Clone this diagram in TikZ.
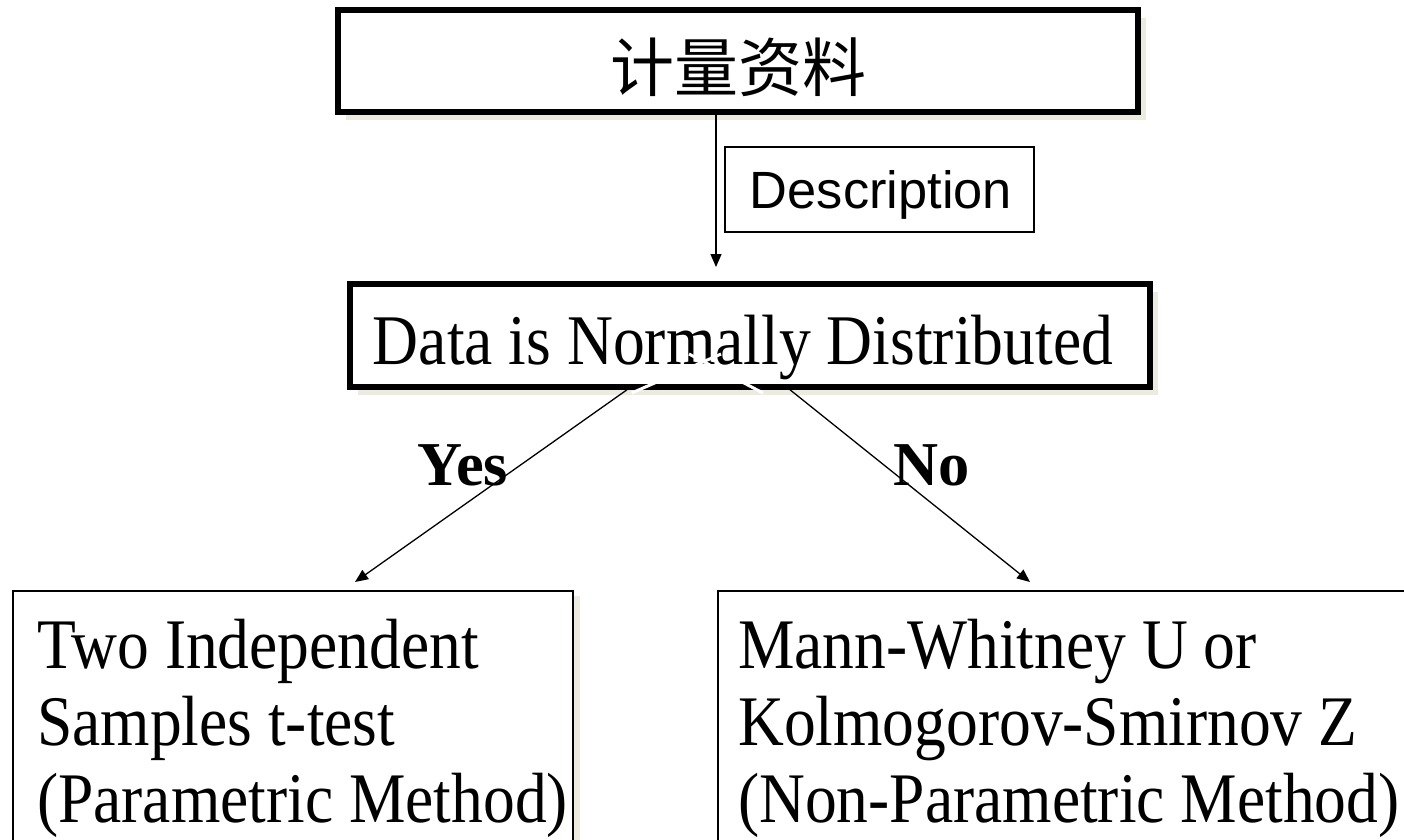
\documentclass[tikz,border=0pt]{standalone}
\usepackage{fontspec}
\setmainfont{Liberation Serif}
\newfontfamily\cjkfont{Noto Sans CJK SC}
\newfontfamily\arialfont{Liberation Sans}
\usetikzlibrary{arrows.meta}
\definecolor{shadowbeige}{HTML}{EDEADF}

\begin{document}
\begin{tikzpicture}[x=1pt,y=-1pt,
  boxshape/.style={draw=black, fill=white, inner sep=0pt, rectangle},
  heavybox/.style={boxshape, line width=6pt},
  midbox/.style={boxshape, line width=5.5pt},
  thinbox/.style={boxshape, line width=1.6pt},
  shadowbox/.style={fill=shadowbeige, draw=none, inner sep=0pt, rectangle},
  arrowline/.style={draw=black, line width=1.3pt, -{Triangle[width=11pt,length=13pt]}},
  gapline/.style={draw=white, line width=3pt},
  serifbig/.style={inner sep=0pt, font=\fontsize{63.5}{68.8}\selectfont},
  answer/.style={inner sep=0pt, anchor=base, font=\fontsize{62.4}{62}\selectfont\bfseries}
]
\useasboundingbox (0,0) rectangle (1404,839);
\clip (0,0) rectangle (1404,839);

% drop shadows
\node[shadowbox, minimum width=800pt, minimum height=102pt] (topshadow) at (746,69) {};
\node[shadowbox, minimum width=800pt, minimum height=103pt] (datashadow) at (757.5,343) {};
\node[shadowbox, minimum width=560pt, minimum height=400pt] (leftshadow) at (300,796) {};

% top box
\node[heavybox, minimum width=800pt, minimum height=102pt] (topbox) at (738,61) {};
\node[inner sep=0pt, anchor=base, font=\cjkfont\fontsize{64}{64}\selectfont] (toptext) at (738,91) {计量资料};

% description label beside the arrow
\node[thinbox, minimum width=309pt, minimum height=85pt] (descbox) at (879.5,189.5) {};
\node[inner sep=0pt, anchor=base, font=\arialfont\fontsize{52.4}{52}\selectfont] (desctext) at (881,208) {Description};

\coordinate (desctip) at (716,267);
\draw[arrowline] (topbox.south -| desctip) -- (desctip);

% normality decision box
\node[midbox, minimum width=800pt, minimum height=103pt] (databox) at (750,335.5) {};
\node[inner sep=0pt, anchor=base, font=\fontsize{63.6}{64}\selectfont] (datatext) at (743,364)
  {\scalebox{1}[1.12]{Data is Normally Distributed}};

% bottom result boxes
\node[thinbox, minimum width=560pt, minimum height=400pt] (leftbox) at (293,791) {};
\node[thinbox, minimum width=702pt, minimum height=400pt] (rightbox) at (1069,791) {};

\node[serifbig, anchor=base west] (lefttext) at (37,668)
  {\scalebox{1}[1.12]{\begin{tabular}[t]{@{}l@{}}Two Independent\\Samples t-test\\(Parametric Method)\end{tabular}}};
\node[serifbig, anchor=base west] (righttext) at (738,668)
  {\scalebox{1}[1.12]{\begin{tabular}[t]{@{}l@{}}Mann-Whitney U or\\Kolmogorov-Smirnov Z\\(Non-Parametric Method)\end{tabular}}};

% branch connectors
\coordinate (yesgapa) at (631.7,393);
\coordinate (yesgapb) at (721,354);
\coordinate (nogapa) at (763,393);
\coordinate (nogapb) at (689,354);
\draw[gapline] (yesgapa) -- (yesgapb);
\draw[gapline] (nogapa) -- (nogapb);

\coordinate (yesstart) at (databox.south -| 627,0);
\coordinate (nostart) at (databox.south -| 790,0);
\coordinate (yestip) at (355,582);
\coordinate (notip) at (1030,582);
\draw[arrowline] (yesstart) -- (yestip);
\draw[arrowline] (nostart) -- (notip);

\node[answer] (yeslabel) at (463,485) {Yes};
\node[answer] (nolabel) at (932,485) {No};
\end{tikzpicture}
\end{document}
